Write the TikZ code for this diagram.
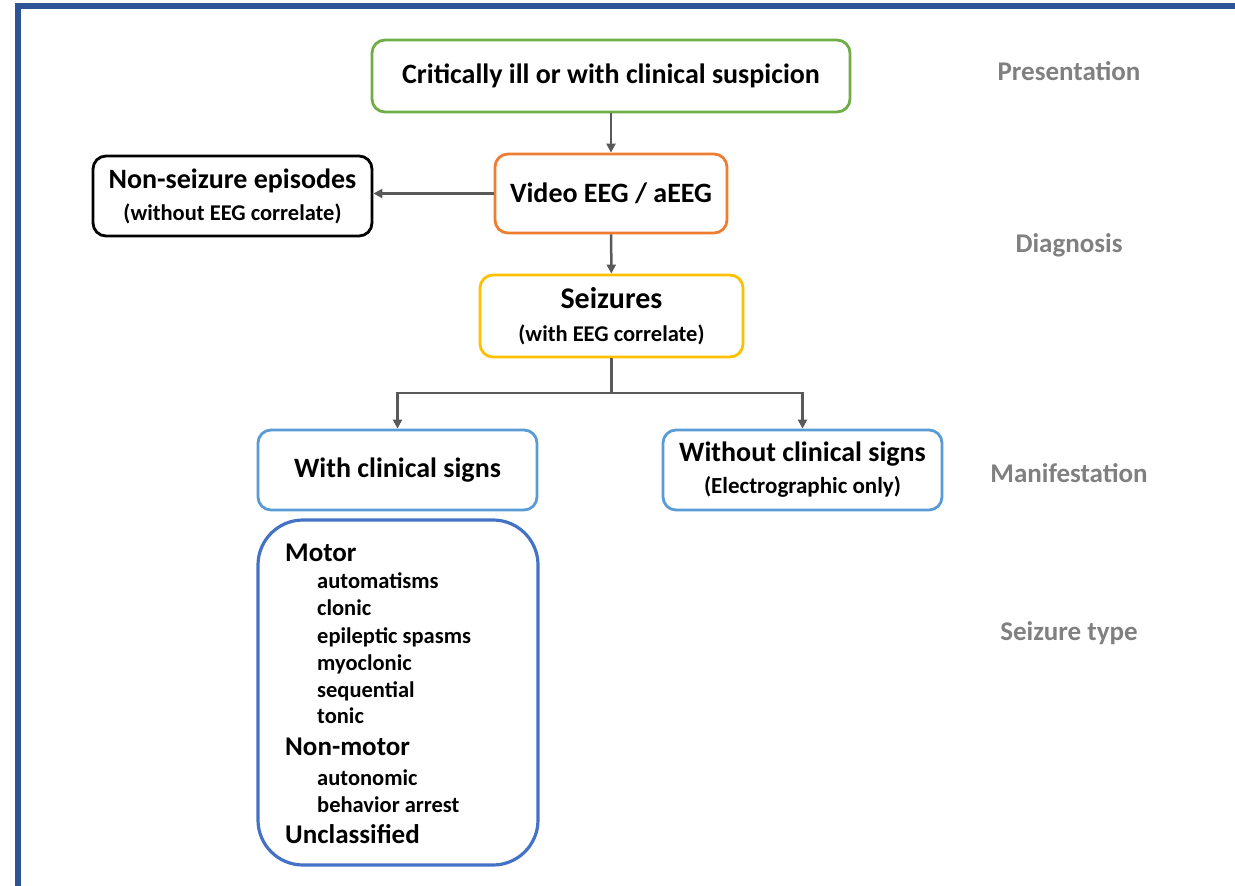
\documentclass[tikz,border=0pt]{standalone}
\usepackage{fontspec}
\setmainfont{Carlito}
\usepackage{tikz}
\usetikzlibrary{arrows.meta}
\definecolor{frameblue}{RGB}{47,84,150}
\definecolor{boxgreen}{RGB}{112,173,71}
\definecolor{boxorange}{RGB}{237,125,49}
\definecolor{boxyellow}{RGB}{255,192,0}
\definecolor{boxblue}{RGB}{91,155,213}
\definecolor{typeblue}{RGB}{68,114,196}
\definecolor{arrowgray}{RGB}{89,89,89}
\definecolor{labelgray}{RGB}{128,128,128}

\begin{document}
\begin{tikzpicture}[x=1pt,y=-1pt,>={Triangle[length=9pt,width=9pt]},
    box/.style={draw,line width=2.8pt,rounded corners=13pt,align=center,inner sep=0pt},
    bigtxt/.style={font=\fontsize{28}{34}\selectfont\bfseries},
    level/.style={text=labelgray,font=\fontsize{27}{32}\selectfont\bfseries},
    link/.style={arrowgray,line width=2.5pt}]
        \useasboundingbox (0,0) rectangle (1235,886);
        \draw[frameblue,line width=6pt] (18,890)--(18,6)--(1240,6);
        % flow boxes
        \node[box,bigtxt,boxgreen,text=black,minimum width=478pt,minimum height=72pt] (crit) at (611,76) {Critically ill or with clinical suspicion};
        \node[box,bigtxt,boxorange,text=black,minimum width=232pt,minimum height=79pt] (veeg) at (611,193.5) {Video EEG / aEEG};
        \node[box,bigtxt,black,minimum width=279pt,minimum height=80pt] (nonsz) at (232.5,196)
            {Non-seizure episodes\\[-2pt]{\fontsize{22.5}{27}\selectfont(without EEG correlate)}};
        \node[box,bigtxt,boxyellow,text=black,minimum width=263pt,minimum height=82pt] (sz) at (611.5,316)
            {{\fontsize{30}{34}\selectfont Seizures}\\[-1pt]{\fontsize{22.5}{27}\selectfont(with EEG correlate)}};
        \node[box,bigtxt,boxblue,text=black,minimum width=279pt,minimum height=80pt] (with) at (397.5,470) {With clinical signs};
        \node[box,bigtxt,boxblue,text=black,minimum width=279pt,minimum height=80pt] (without) at (802.5,470)
            {Without clinical signs\\[-2pt]{\fontsize{23}{27}\selectfont(Electrographic only)}};
        \node[draw=typeblue,line width=3.2pt,rounded corners=45pt,minimum width=280pt,minimum height=345pt] (types) at (398,692.5) {};
        % seizure types
        \foreach \y/\t [count=\i] in {561/Motor,755/Non-motor,843/Unclassified}
            \node[anchor=base west,inner sep=0pt,font=\fontsize{27}{32}\selectfont\bfseries] (head\i) at (285,\y) {\t};
        \foreach \y/\t [count=\i] in {588/automatisms,615/clonic,643/epileptic spasms,670/myoclonic,697/sequential,723/tonic,785/autonomic,812/behavior arrest}
            \node[anchor=base west,inner sep=0pt,font=\fontsize{22.5}{27}\selectfont\bfseries] (item\i) at (317,\y) {\t};
        % levels
        \node[level] (lpres) at (1069,71) {Presentation};
        \node[level] (ldiag) at (1069,245) {Diagnosis};
        \node[level] (lmani) at (1069,473) {Manifestation};
        \node[level] (ltype) at (1069,633) {Seizure type};
        % connectors
        \coordinate (split) at (sz.south |- 0,393);
        \draw[link,->] (crit) -- (veeg);
        \draw[link,->] (veeg.west) -- (veeg.west -| nonsz.east);
        \draw[link,->] (veeg) -- (sz);
        \draw[link] (sz.south) -- (split);
        \draw[link,->] (split) -| (with.north);
        \draw[link,->] (split) -| (without.north);
      \end{tikzpicture}
\end{document}
